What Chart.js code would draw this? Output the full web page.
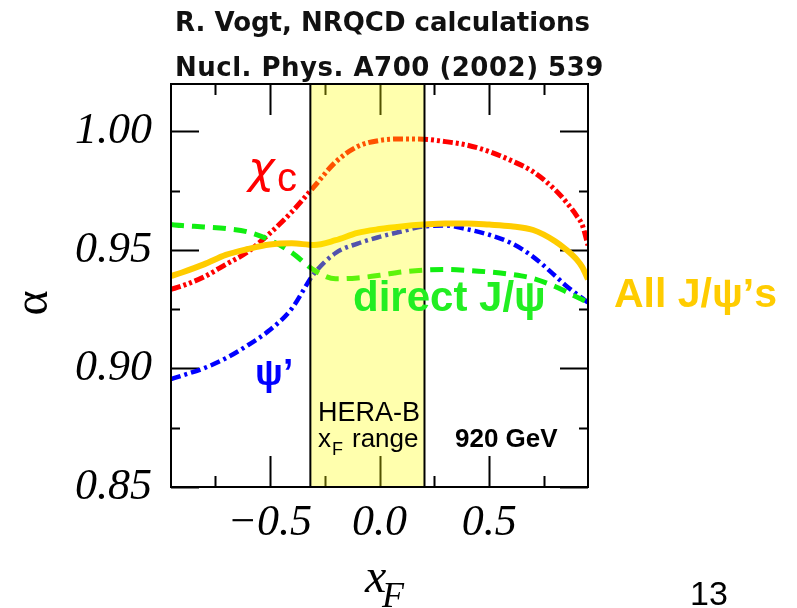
<!DOCTYPE html>
<html>
<head>
<meta charset="utf-8">
<title>alpha vs xF, 920 GeV</title>
<script src="https://cdn.jsdelivr.net/npm/chart.js@4"></script>
<style>
  html, body { margin: 0; padding: 0; background: #fff; }
  #chart { display: block; }
</style>
</head>
<body>
<canvas id="chart" width="797" height="608"></canvas>
<script>
// x_F grid and alpha for each state
const xF = [-0.95, -0.9, -0.8, -0.7, -0.6, -0.5, -0.4, -0.3, -0.2, -0.1, 0.0, 0.1, 0.2, 0.3, 0.4, 0.5, 0.6, 0.7, 0.8, 0.85, 0.9, 0.925, 0.95];
const chiC = [0.9334, 0.9348, 0.9386, 0.9439, 0.9492, 0.9570, 0.9660, 0.9765, 0.9871, 0.9936, 0.9962, 0.9968, 0.9967, 0.9957, 0.9942, 0.9915, 0.9877, 0.9830, 0.9754, 0.9703, 0.9642, 0.9603, 0.9519];
const psiPrime = [0.8955, 0.8970, 0.9001, 0.9043, 0.9098, 0.9162, 0.9252, 0.9398, 0.9487, 0.9527, 0.9555, 0.9578, 0.9599, 0.9603, 0.9587, 0.9564, 0.9529, 0.9471, 0.9391, 0.9349, 0.9313, 0.9296, 0.9278];
const directJpsi = [0.9607, 0.9603, 0.9597, 0.9590, 0.9576, 0.9542, 0.9489, 0.9416, 0.9378, 0.9382, 0.9393, 0.9407, 0.9415, 0.9418, 0.9414, 0.9407, 0.9397, 0.9380, 0.9346, 0.9324, 0.9301, 0.9290, 0.9278];
const allJpsi = [0.9390, 0.9405, 0.9439, 0.9479, 0.9504, 0.9523, 0.9528, 0.9521, 0.9541, 0.9572, 0.9588, 0.9599, 0.9607, 0.9612, 0.9612, 0.9607, 0.9600, 0.9584, 0.9537, 0.9502, 0.9458, 0.9426, 0.9376];

// ticks
const xMajor = [-0.5, 0.0, 0.5];
const xMinor = [-0.75, -0.25, 0.25, 0.75];
const yMajor = [0.85, 0.90, 0.95, 1.00];
const yMinor = [0.875, 0.925, 0.975];

// HERA-B x_F acceptance
const heraRange = [-0.315, 0.205];

function points(ys) {
    return xF.map((x, i) => ({ x: x, y: ys[i] }));
}

// ticks pointing into the frame on all four sides
const innerTicks = {
    id: 'innerTicks',
    beforeDatasetsDraw(chart) {
        const { ctx, chartArea: a, scales: { x, y } } = chart;
        ctx.save();
        ctx.strokeStyle = '#000';
        ctx.lineWidth = 2;
        ctx.beginPath();
        const tx = (v, len) => {
            const p = Math.round(x.getPixelForValue(v)) + 0.5;
            ctx.moveTo(p, a.bottom); ctx.lineTo(p, a.bottom - len);
            ctx.moveTo(p, a.top); ctx.lineTo(p, a.top + len);
        };
        const ty = (v, len) => {
            const p = Math.round(y.getPixelForValue(v)) + 0.5;
            ctx.moveTo(a.left, p); ctx.lineTo(a.left + len, p);
            ctx.moveTo(a.right, p); ctx.lineTo(a.right - len, p);
        };
        xMajor.forEach(v => tx(v, 31));
        xMinor.forEach(v => tx(v, 11));
        yMajor.forEach(v => ty(v, 28));
        yMinor.forEach(v => ty(v, 9));
        ctx.stroke();
        ctx.restore();
    }
};

// band, frame and all the labels
const overlay = {
    id: 'overlay',
    afterDatasetsDraw(chart) {
        const { ctx, chartArea: a, scales: { x } } = chart;
        const b0 = x.getPixelForValue(heraRange[0]);
        const b1 = x.getPixelForValue(heraRange[1]);
        ctx.save();
        ctx.fillStyle = 'rgba(255, 255, 0, 0.32)';
        ctx.fillRect(b0, a.top, b1 - b0, a.bottom - a.top);

        ctx.strokeStyle = '#000';
        ctx.lineWidth = 2;
        ctx.beginPath();
        ctx.moveTo(b0, a.top); ctx.lineTo(b0, a.bottom);
        ctx.moveTo(b1, a.top); ctx.lineTo(b1, a.bottom);
        ctx.stroke();
        ctx.strokeRect(a.left, a.top, a.right - a.left, a.bottom - a.top);

        const text = (s, font, color, px, py) => {
            ctx.font = font;
            ctx.fillStyle = color;
            ctx.fillText(s, px, py);
        };
        ctx.textAlign = 'left';
        ctx.textBaseline = 'alphabetic';

        text('R. Vogt, NRQCD calculations', 'bold 26px "DejaVu Sans"', '#111', 175, 31);
        ctx.letterSpacing = '0.5px';
        text('Nucl. Phys. A700 (2002) 539', 'bold 26px "DejaVu Sans"', '#111', 175, 76);
        ctx.letterSpacing = '0px';

        text('\u03c7', 'italic 45px "DejaVu Sans"', '#ff0000', 248, 183);
        text('c', '40px "Liberation Sans"', '#ff0000', 277, 191);
        text('\u03c8\u2019', 'bold 37px "Liberation Sans"', '#0000ff', 255, 385);
        text('direct J/\u03c8', 'bold 42px "Liberation Sans"', '#22ee22', 353, 311);
        text('All J/\u03c8\u2019s', 'bold 41px "Liberation Sans"', '#ffcc00', 614, 307);

        text('HERA-B', '27px "Liberation Sans"', '#000', 318, 421);
        text('x', '26px "Liberation Sans"', '#000', 318, 447);
        text('F', '18px "Liberation Sans"', '#000', 332, 455);
        text('range', '26px "Liberation Sans"', '#000', 352, 447);
        text('920 GeV', 'bold 26px "Liberation Sans"', '#000', 455, 447);

        // axis titles
        text('x', 'italic 48px "Liberation Serif"', '#000', 365, 592);
        text('F', 'italic 36px "Liberation Serif"', '#000', 382, 607);
        ctx.save();
        ctx.translate(34, 303);
        ctx.rotate(-Math.PI / 2);
        ctx.textAlign = 'center';
        ctx.textBaseline = 'middle';
        text('\u03b1', '48px "Liberation Serif"', '#000', 0, 0);
        ctx.restore();

        text('13', '34px "Liberation Sans"', '#000', 690, 605);
        ctx.restore();
    }
};

const tickFont = { family: 'Liberation Serif', style: 'italic', size: 44, lineHeight: 1.2 };

new Chart(document.getElementById('chart'), {
    type: 'line',
    data: {
        datasets: [
            {
                label: 'All J/\u03c8\u2019s',
                data: points(allJpsi),
                borderColor: '#ffcc00',
                borderWidth: 6
            },
            {
                label: 'direct J/\u03c8',
                data: points(directJpsi),
                borderColor: '#11ee11',
                borderWidth: 5,
                borderDash: [13, 8]
            },
            {
                label: '\u03c8\u2019',
                data: points(psiPrime),
                borderColor: '#0000ff',
                borderWidth: 4.5,
                borderDash: [10, 4, 3, 4]
            },
            {
                label: '\u03c7c',
                data: points(chiC),
                borderColor: '#ff0000',
                borderWidth: 5,
                borderDash: [10, 3, 3, 3, 3, 3]
            }
        ]
    },
    options: {
        responsive: false,
        animation: false,
        devicePixelRatio: 1,
        layout: { padding: { left: 0, top: 84, right: 209, bottom: 0 } },
        elements: {
            point: { radius: 0 },
            line: { cubicInterpolationMode: 'monotone', fill: false }
        },
        plugins: {
            legend: { display: false },
            tooltip: { enabled: false }
        },
        scales: {
            x: {
                type: 'linear',
                min: -0.95,
                max: 0.95,
                afterBuildTicks: s => { s.ticks = xMajor.map(v => ({ value: v })); },
                afterFit: s => { s.height = 121; },
                grid: { display: false, drawTicks: false },
                border: { display: false },
                ticks: {
                    padding: 10,
                    color: '#000',
                    autoSkip: false,
                    maxRotation: 0,
                    font: tickFont,
                    callback: v => (v < 0 ? '\u2212' : '') + Math.abs(v).toFixed(1)
                }
            },
            y: {
                min: 0.85,
                max: 1.02,
                afterBuildTicks: s => { s.ticks = yMajor.map(v => ({ value: v })); },
                afterFit: s => { s.width = 171; },
                grid: { display: false, drawTicks: false },
                border: { display: false },
                ticks: {
                    padding: 19,
                    color: '#000',
                    autoSkip: false,
                    font: tickFont,
                    callback: v => v.toFixed(2)
                }
            }
        }
    },
    plugins: [innerTicks, overlay]
});
</script>
</body>
</html>
